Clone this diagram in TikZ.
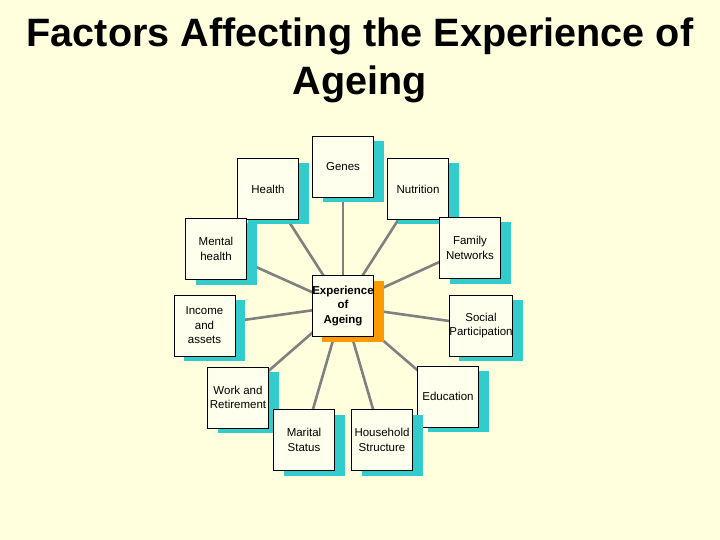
\documentclass[tikz,border=0pt]{standalone}
\usepackage{fontspec}
\setmainfont{Liberation Sans}
\usetikzlibrary{shadows,backgrounds}

\definecolor{paper}{RGB}{255,255,221}
\definecolor{boxfill}{RGB}{255,255,238}
\definecolor{shadowteal}{RGB}{51,204,204}
\definecolor{amber}{RGB}{255,153,0}
\definecolor{spokegray}{RGB}{128,128,128}

\begin{document}
\begin{tikzpicture}[x=1pt,y=-1pt,
    box/.style={draw=black, line width=0.8pt, fill=boxfill,
      minimum width=61pt, minimum height=61pt, inner sep=0pt,
      align=center, font=\fontsize{11.5}{14.5}\selectfont},
    factor/.style={box, drop shadow={shadow xshift=10pt, shadow yshift=-5pt,
      fill=shadowteal, opacity=1}},
    hub/.style={box, font=\bfseries\fontsize{11.5}{14.5}\selectfont,
      drop shadow={shadow xshift=10pt, shadow yshift=-5pt,
      fill=amber, opacity=1}},
    spoke/.style={draw=spokegray, line width=2.6pt}]

    \useasboundingbox (0,0) rectangle (720,540);

    \node[align=center, anchor=base, inner sep=0pt,
      font=\bfseries\fontsize{39.6}{48.3}\selectfont]
      (title) at (360,95) {Factors Affecting the Experience of\\Ageing};


    \node[hub] (exp) at (343,306) {Experience\\of\\Ageing};

    \node[factor] (genes) at (343,166.5) {Genes};

    \node[factor] (health) at (268,189) {Health};

    \node[factor] (nutrition) at (418,189) {Nutrition};

    \node[factor] (mental) at (216,249) {Mental\\health};

    \node[factor] (family) at (470,248) {Family\\Networks};

    \node[factor] (income) at (204.5,325.5) {Income\\and\\assets};

    \node[factor] (social) at (481,325.5) {Social\\Participation};

    \node[factor] (work) at (238,397.5) {Work and\\Retirement};

    \node[factor] (education) at (448,396.5) {Education};

    \node[factor] (marital) at (304,440) {Marital\\Status};

    \node[factor] (household) at (382,440) {Household\\Structure};


    % spokes and paper go behind the boxes
    \begin{pgfonlayer}{background}
      \fill[paper] (0,0) rectangle (720,540);
      \foreach \f in {genes,health,nutrition,mental,family,income,social,work,education,marital,household}
        \draw[spoke] (exp.center) -- (\f.center);
    \end{pgfonlayer}

\end{tikzpicture}
\end{document}
